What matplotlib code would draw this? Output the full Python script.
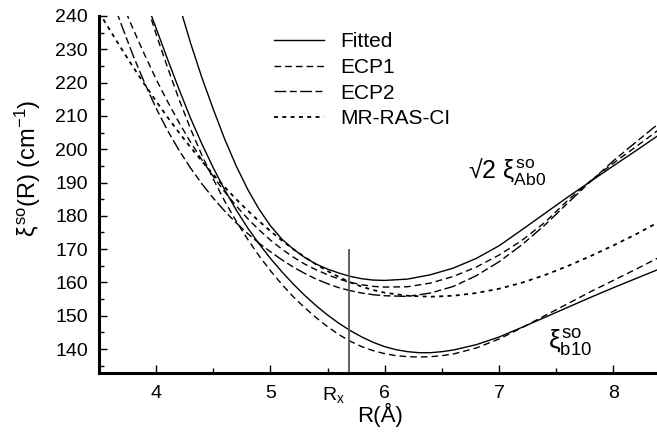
import matplotlib
matplotlib.use('Agg')
import matplotlib.pyplot as plt
from matplotlib.ticker import MultipleLocator

plt.rcParams['font.family'] = ['Liberation Sans', 'DejaVu Sans']
plt.rcParams['mathtext.fontset'] = 'custom'
plt.rcParams['mathtext.rm'] = 'Liberation Sans'
plt.rcParams['mathtext.it'] = 'Liberation Sans'
plt.rcParams['mathtext.sf'] = 'Liberation Sans'

# R grids (Angstrom)
r_a = [3.5, 3.6, 3.7, 3.8, 3.9, 4.0, 4.1, 4.2, 4.3, 4.4, 4.5, 4.6, 4.7, 4.8, 4.9,
       5.0, 5.1, 5.2, 5.3, 5.4, 5.5, 5.6, 5.7, 5.8, 5.9, 6.0]
r_b = [6.2, 6.4, 6.6, 6.8, 7.0, 7.2, 7.4, 7.6, 7.8, 8.0, 8.2, 8.4]
r_c = [6.1, 6.2, 6.3, 6.4, 6.5, 6.6, 6.8, 7.0, 7.2, 7.4, 7.6, 7.8, 8.0, 8.2, 8.4]

# sqrt(2) xi_Ab0 group
fit_up = [243.5, 232, 221.5, 212, 203, 195, 188, 182, 177, 173, 170, 167.5,
          165.5, 164, 162.8, 161.8, 161.1, 160.7, 160.6,
          161, 162.3, 164.3, 167.2, 171, 175.8, 180.7, 185.6, 190.3, 195, 199.6, 204.3]
ecp1_up = [244, 236, 228.3, 221, 214.3, 208, 202.2, 196.8, 191.8, 187.2, 183,
           179.2, 175.8, 172.7, 170, 167.6, 165.5, 163.8, 162.3, 161, 160, 159.3,
           158.8, 158.6,
           158.7, 159.8, 161.8, 164.6, 168.2, 172.6, 178, 184.6, 190.5, 195.8, 200.8, 205.9]
ecp2_up = [246.2, 237, 228, 219.8, 212.3, 205.6, 199.7, 194.4, 189.6, 185.3,
           181.4, 177.9, 174.7, 171.8, 169.2, 166.8, 164.6, 162.7, 161, 159.6,
           158.4, 157.5, 156.8, 156.3, 156,
           155.8, 156.8, 158.8, 162, 166.2, 171.3, 177.2, 183.8, 190.3, 196.5, 202.2, 207.8]
cas_up = [241.1, 235.5, 230, 224.6, 219.4, 214.4, 209.6, 205, 200.6, 196.4,
          192.4, 188.6, 185, 181.6, 178.4, 175.4, 172.6, 170, 167.6, 165.4,
          163.4, 161.6, 160, 158.7, 157.7, 156.9,
          156, 155.7, 156, 156.8, 158.1, 159.9, 162.2, 164.9, 167.9, 171.1, 174.5, 178.2]

# xi_b10 group
fit_lo = [245.5, 236.3, 227, 218, 209.4, 201.6, 194.4, 187.8, 181.8, 176.4,
          171.6, 167.2, 163.2, 159.5, 156.1, 153, 150.2, 147.7, 145.5, 143.6,
          142, 140.7,
          139.8, 139.2, 138.9, 138.9, 139.2, 139.7, 141.3, 143.6, 146.5, 149.5,
          152.5, 155.5, 158.4, 161.2, 164]
ecp1_lo = [245.5, 234.5, 224.5, 215, 206.2, 198.2, 191, 184.4, 178.4, 173,
           168, 163.5, 159.4, 155.7, 152.4, 149.4, 146.7, 144.3, 142.3, 140.7,
           139.5, 138.6,
           138, 137.7, 137.6, 137.7, 138, 138.5, 140.3, 143, 146.4, 150, 153.6,
           157.2, 160.6, 164, 167.5]

r_x = 5.69
labels = ['Fitted', 'ECP1', 'ECP2', 'MR-RAS-CI']

fig = plt.figure(figsize=(6.57, 4.37), dpi=100)
ax = fig.add_axes([99 / 657, 64 / 437, 558 / 657, 357 / 437])

lw = 1.0
l1, = ax.plot(r_a[7:] + r_b, fit_up, color='k', lw=lw)
l2, = ax.plot(r_a[2:] + r_b, ecp1_up, color='k', lw=lw, dashes=(4.8, 2.9))
l3, = ax.plot(r_a[1:] + r_b, ecp2_up, color='k', lw=lw, dashes=(8.5, 2.5, 5, 2.5))
l4, = ax.plot(r_a + r_b, cas_up, color='k', lw=1.3, dashes=(2.2, 2.4))
ax.plot(r_a[4:] + r_c, fit_lo, color='k', lw=lw)
ax.plot(r_a[4:] + r_c, ecp1_lo, color='k', lw=lw, dashes=(4.8, 2.9))

ax.vlines(r_x, 130, 170, color='#555555', lw=1.3)

ax.set_xlim(3.5, 8.382)
ax.set_ylim(132.8, 240)
ax.xaxis.set_major_locator(MultipleLocator(1))
ax.xaxis.set_minor_locator(MultipleLocator(0.5))
ax.yaxis.set_major_locator(MultipleLocator(10))
ax.yaxis.set_minor_locator(MultipleLocator(5))
for s in ['top', 'right']:
    ax.spines[s].set_visible(False)
for s in ['left', 'bottom']:
    ax.spines[s].set_linewidth(2.2)
ax.tick_params(which='major', direction='in', length=6, width=1, labelsize=14)
ax.tick_params(axis='x', which='major', pad=8.5)
ax.tick_params(axis='y', which='major', pad=8)
ax.tick_params(which='minor', direction='in', length=3.5, width=1)

ax.set_xlabel('R(Å)', fontsize=16)
ax.set_ylabel(r'$\xi^{\rm so}$(R) (cm$^{-1}$)', fontsize=17)
ax.xaxis.set_label_coords(0.504, -0.084)
ax.yaxis.set_label_coords(-0.100, 0.574)

ax.text(r_x - 0.04, -0.034, r'R$_{\rm x}$', transform=ax.get_xaxis_transform(),
        ha='right', va='top', fontsize=14)
ax.text(6.73, 191.4, r'√2 $\xi^{\rm so}_{\rm Ab0}$', fontsize=18, va='baseline')
ax.text(7.43, 140, r'$\xi^{\rm so}_{\rm b10}$', fontsize=19, va='baseline')

ax.legend([l1, l2, l3, l4], labels, loc='upper left', bbox_to_anchor=(0.3136, 0.954),
          frameon=False, fontsize=15, handlelength=2.4, handletextpad=0.8,
          labelspacing=0.32, borderpad=0, borderaxespad=0)

fig.savefig('out.png', dpi=100)
